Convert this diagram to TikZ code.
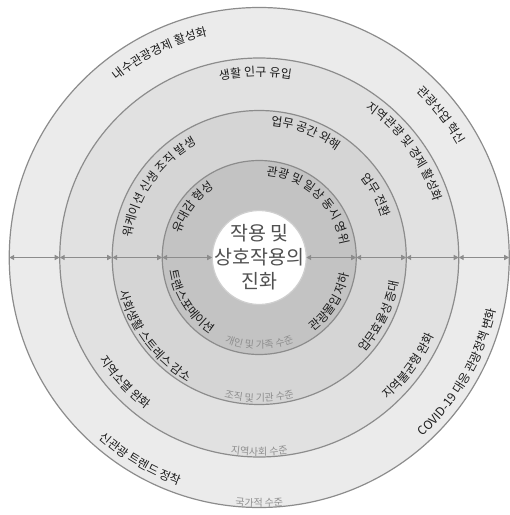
\documentclass[tikz,border=0pt]{standalone}
\usepackage{fontspec}
\setmainfont{Noto Sans CJK KR}
\usetikzlibrary{decorations.text,arrows.meta}
\definecolor{ringA}{HTML}{EBEBEB}
\definecolor{ringB}{HTML}{E1E1E1}
\definecolor{ringC}{HTML}{D5D5D5}
\definecolor{ringD}{HTML}{C3C3C3}
\definecolor{glowE}{HTML}{CFCFCF}
\definecolor{linec}{HTML}{8C8C8C}
\definecolor{txt}{HTML}{1C1C1C}
\definecolor{lvltxt}{HTML}{8E8E8E}
\definecolor{ctxt}{HTML}{505050}
\pgfdeclareradialshading{glow}{\pgfpoint{0bp}{0bp}}{color(0bp)=(white); color(37bp)=(white); color(50bp)=(glowE)}
\newcommand\lblfont{\fontsize{12}{14}\selectfont}
\newcommand\lvlfont{\fontsize{10}{12}\selectfont}
% label on upper arc (clockwise, glyph tops outward)
\newcommand\UpLabel[3]{%
  \pgfmathsetmacro\myS{#1+80}\pgfmathsetmacro\myE{#1-80}%
  \path[decorate,decoration={text along path,text align=center,
    text={|\color{txt}\lblfont|#3}}] (\myS:#2) arc[start angle=\myS,end angle=\myE,radius=#2];}
% label on lower arc (counter-clockwise, glyph tops toward centre)
\newcommand\LowLabel[3]{%
  \pgfmathsetmacro\myS{#1-80}\pgfmathsetmacro\myE{#1+80}%
  \path[decorate,decoration={text along path,text align=center,
    text={|\color{txt}\lblfont|#3}}] (\myS:#2) arc[start angle=\myS,end angle=\myE,radius=#2];}
% level label (gray, small) at the bottom
\newcommand\LvlLabel[2]{%
  \path[decorate,decoration={text along path,text align=center,
    text={|\color{lvltxt}\lvlfont|#2}}] (200:#1) arc[start angle=200,end angle=340,radius=#1];}
\tikzset{
  ring/.style={circle, draw=linec, line width=1.2pt, inner sep=0pt, outer sep=0pt},
  conn/.style={draw=linec, line width=1.3pt, {Triangle[length=5pt,width=5pt]}-{Triangle[length=5pt,width=5pt]}}
}
\begin{document}
\begin{tikzpicture}[x=1pt,y=1pt]
\useasboundingbox[fill=white] (-259.25,-257.5) rectangle (250.75,257.5);
\node[ring, fill=ringA, minimum size=500pt] (o1) at (0,0) {};
\node[ring, fill=ringB, minimum size=399pt] (o2) at (0,0) {};
\node[ring, fill=ringC, minimum size=294pt] (o3) at (0,0) {};
\node[ring, fill=ringD, minimum size=194pt] (o4) at (0,0) {};
\node[ring, shading=glow, minimum size=94pt, draw=glowE] (o5) at (0,0) {};
% horizontal arrows
\draw[conn] (o1.west) -- (o2.west);
\draw[conn] (o2.west) -- (o3.west);
\draw[conn] (o3.west) -- (o4.west);
\draw[conn] (o4.west) -- (o5.west);
\draw[conn] (o5.east) -- (o4.east);
\draw[conn] (o4.east) -- (o3.east);
\draw[conn] (o3.east) -- (o2.east);
\draw[conn] (o2.east) -- (o1.east);
% centre
\node[align=center, font=\fontsize{19.5}{24}\selectfont, text=ctxt] (title) at (0,0) {작용 및\\상호작용의\\진화};
% outer ring
\UpLabel{116}{227.5}{내수관광경제 활성화}
\UpLabel{38}{228.5}{관광산업 혁신}
\LowLabel{-30}{242.5}{COVID-19 대응 관광정책 변화}
\LowLabel{239.5}{241.5}{신관광 트렌드 정착}
\LvlLabel{249.3}{국가적 수준}
% second ring
\UpLabel{91.2}{181}{생활 인구 유입}
\UpLabel{36}{183.5}{지역관광 및 경제 활성화}
\LowLabel{-36}{191.5}{지역불균형 완화}
\LowLabel{223}{189.5}{지역소멸 완화}
\LvlLabel{198.3}{지역사회 수준}
% third ring
\UpLabel{145}{129.5}{워케이션 신생 조직 발생}
\UpLabel{69.5}{132.5}{업무 공간 와해}
\UpLabel{28}{129.5}{업무 전환}
\LowLabel{-26}{141.5}{업무효율성 증대}
\LowLabel{217}{143.5}{사회생활 스트레스 감소}
\LvlLabel{144.3}{조직 및 기관 수준}
% fourth ring
\UpLabel{143}{82.5}{유대감 형성}
\UpLabel{47}{82.5}{관광 및 일상 동시 영위}
\LowLabel{-32}{91.5}{관광몰입 저하}
\LowLabel{213}{90.5}{트랜스포메이션}
\LvlLabel{91.3}{개인 및 가족 수준}
\end{tikzpicture}
\end{document}
